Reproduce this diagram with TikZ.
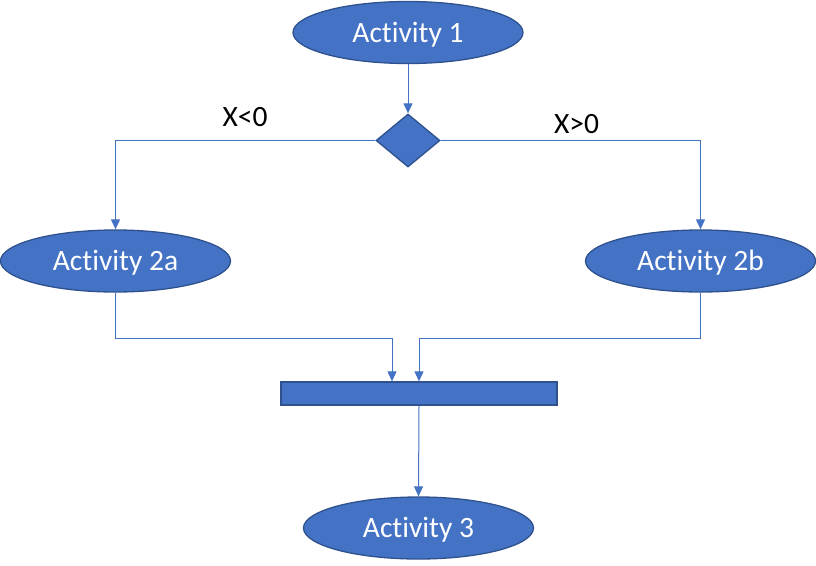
\documentclass[tikz,border=0pt]{standalone}
\usepackage{fontspec}
\setmainfont{Carlito}[Ligatures={NoCommon}]
\usetikzlibrary{shapes.geometric,arrows.meta}
\definecolor{actfill}{HTML}{4472C4}
\definecolor{actline}{HTML}{2F528F}
\tikzset{
    activity/.style={draw=actline,fill=actfill,ellipse,line width=1.3pt,inner sep=0pt,
        minimum width=230pt,minimum height=62pt,text=white,text height=19pt,text depth=0pt,
        font=\fontsize{29.5}{34}\selectfont},
    flow/.style={draw=actfill,line width=1pt,-{Triangle[width=9pt,length=10pt]}},
    guard/.style={font=\fontsize{29.5}{34}\selectfont,inner sep=0pt,text height=19pt,text depth=0pt}
}
\begin{document}
\begin{tikzpicture}[x=1pt,y=-1pt]
        \useasboundingbox (0,0) rectangle (816,565);
        \coordinate (p1) at (408,32.5);
        \coordinate (pd) at (408,140.5);
        \coordinate (p2a) at (115.5,261);
        \coordinate (p2b) at (700.5,261);
        \coordinate (pj) at (419,393.5);
        \coordinate (p3) at (418.5,528);

        \node[activity] (act1) at (p1){Activity 1};
        \node[draw=actline,fill=actfill,diamond,line width=1.3pt,inner sep=0pt,minimum width=64pt,minimum height=53pt] (dec) at (pd){};
        \node[activity] (act2a) at (p2a){Activity 2a};
        \node[activity] (act2b) at (p2b){Activity 2b};
        \node[draw=actline,fill=actfill,rectangle,line width=1.3pt,inner sep=0pt,minimum width=276pt,minimum height=23pt] (join) at (pj){};
        \node[activity] (act3) at (p3){Activity 3};

        \node[guard] (lneg) at (245,117){X<0};
        \node[guard] (lpos) at (576.5,124){X>0};

        \coordinate (ja) at (392,338);
        \coordinate (jb) at (419,338);

        \draw[flow] (act1.south) -- (dec.north);
        \draw[flow] (dec.west) -| (act2a.north);
        \draw[flow] (dec.east) -| (act2b.north);
        \draw[flow] (act2a.south) |- (ja) -- (ja |- join.north);
        \draw[flow] (act2b.south) |- (jb) -- (jb |- join.north);
        \draw[flow] (join.south) -- (act3.north);
    \end{tikzpicture}
\end{document}
